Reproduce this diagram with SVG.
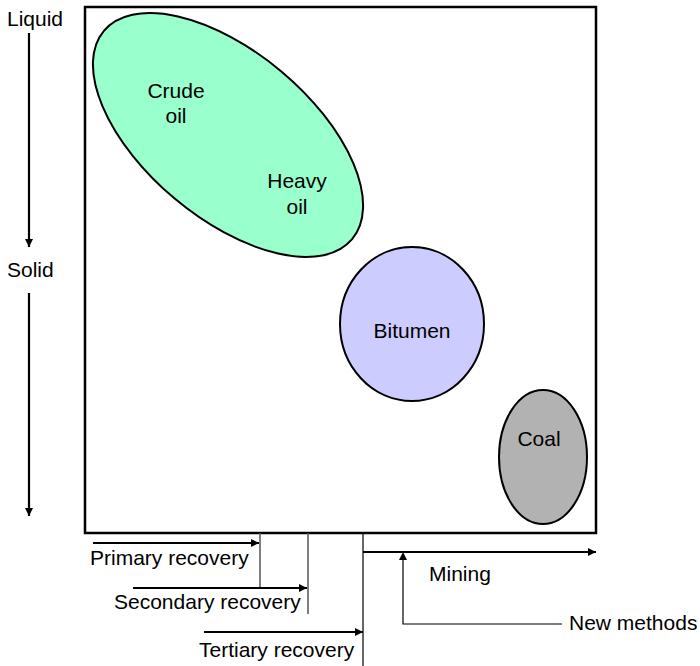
<svg xmlns="http://www.w3.org/2000/svg" width="700" height="666" viewBox="0 0 700 666">
  <defs>
    <marker id="ah" viewBox="0 0 10 10" refX="10" refY="5" markerWidth="10" markerHeight="8" markerUnits="userSpaceOnUse" orient="auto">
      <path d="M0,0 L10,5 L0,10 Z" fill="#000"/>
    </marker>
    <style>
      text { font-family: "Liberation Sans", Arial, sans-serif; font-size: 21px; fill: #000; }
      .mid { text-anchor: middle; }
      .shape { stroke: #000; stroke-width: 2; }
      .arrow { stroke: #000; stroke-width: 2.2; fill: none; marker-end: url(#ah); }
      .thin { stroke: #000; stroke-width: 1.2; fill: none; }
      .tick { stroke: #555; stroke-width: 1.5; fill: none; }
    </style>
  </defs>
  <rect width="700" height="666" fill="#fff"/>

  <!-- phase axis on the left -->
  <g id="phase-axis">
    <text x="7" y="26">Liquid</text>
    <text x="7" y="277">Solid</text>
  </g>

  <!-- frame -->
  <g id="frame">
    <rect x="85" y="7" width="511" height="526" fill="none" stroke="#000" stroke-width="2.5"/>
  </g>

  <g id="oil">
    <ellipse cx="228" cy="135" rx="162" ry="83" transform="rotate(40 228 135)" fill="#99ffcc" class="shape"/>
    <text class="mid" x="176" y="98">Crude</text>
    <text class="mid" x="176" y="123">oil</text>
    <text class="mid" x="297" y="188">Heavy</text>
    <text class="mid" x="297" y="214">oil</text>
  </g>

  <g id="bitumen">
    <ellipse cx="412" cy="324" rx="72" ry="77" fill="#ccccff" class="shape"/>
    <text class="mid" x="412" y="338">Bitumen</text>
  </g>

  <g id="coal">
    <ellipse cx="543" cy="457" rx="44" ry="67" fill="#b2b2b2" class="shape"/>
    <text class="mid" x="539" y="446">Coal</text>
  </g>

  <!-- recovery methods along the bottom -->
  <g id="labels">
    <text x="90" y="565">Primary recovery</text>
    <text x="114" y="609">Secondary recovery</text>
    <text x="199" y="657">Tertiary recovery</text>
    <text x="429" y="581">Mining</text>
    <text x="569" y="630">New methods</text>
  </g>

  <g id="connectors">
    <line class="arrow" x1="29" y1="33" x2="29" y2="247"/>
    <line class="arrow" x1="29" y1="293" x2="29" y2="516"/>
    <line class="tick" x1="260" y1="533" x2="260" y2="587"/>
    <line class="tick" x1="308" y1="533" x2="308" y2="614"/>
    <line class="thin" x1="363" y1="533" x2="363" y2="666"/>
    <line class="arrow" x1="93" y1="543" x2="259" y2="543"/>
    <line class="arrow" x1="133" y1="588" x2="307" y2="588"/>
    <line class="arrow" x1="204" y1="632" x2="363" y2="632"/>
    <line class="arrow" x1="363" y1="552" x2="596" y2="552"/>
    <polyline class="thin" points="562,624 403,624 403,556"/>
    <path d="M399,560 L403,552 L407,560 Z" fill="#000"/>
  </g>
</svg>
